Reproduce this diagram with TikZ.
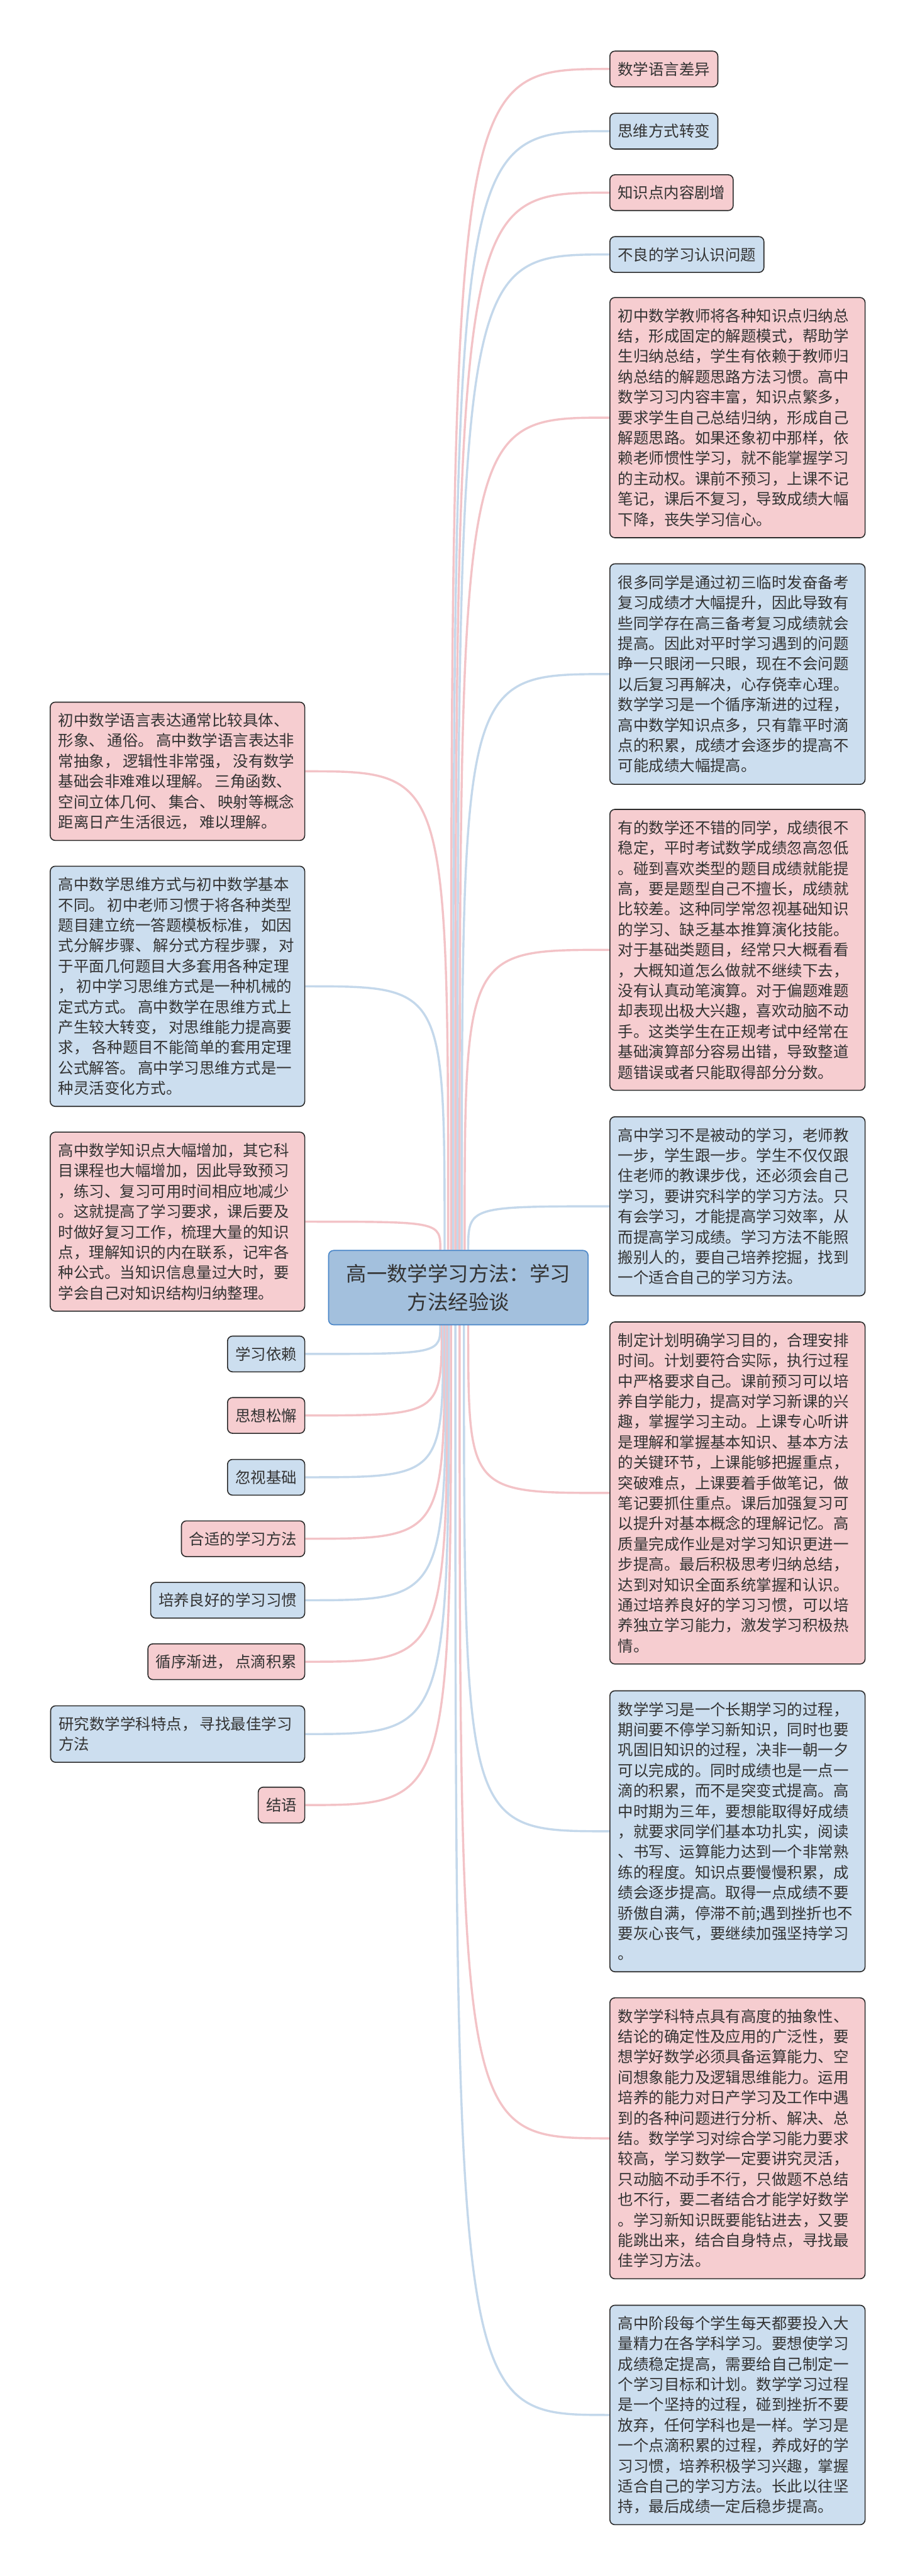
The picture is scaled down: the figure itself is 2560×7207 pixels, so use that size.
\documentclass[tikz,border=0pt]{standalone}
\usepackage{fontspec}
\newfontfamily\cjk{Noto Sans CJK SC}
\definecolor{pinkfill}{HTML}{F6CDD0}
\definecolor{bluefill}{HTML}{CCDEEF}
\definecolor{pinkline}{HTML}{F3C3C7}
\definecolor{blueline}{HTML}{C4D8EB}
\definecolor{cfill}{HTML}{A3C0DD}
\definecolor{cborder}{HTML}{4A86C8}
\definecolor{bordercol}{HTML}{2B2B2B}
\definecolor{txt}{HTML}{333333}
\newcommand\gp{\nobreak\hspace{0.18em}\nobreak}
\pgfdeclarelayer{bg}
\pgfsetlayers{bg,main}
\begin{document}
\begin{tikzpicture}[x=0.5pt,y=-0.5pt,
 base/.style={draw=bordercol, line width=1.4pt, rounded corners=7pt, text=txt, font=\cjk\fontsize{21.5pt}{28.5pt}\selectfont},
 pinkbox/.style={base, fill=pinkfill},
 bluebox/.style={base, fill=bluefill},
 small/.style={inner xsep=11pt, inner ysep=0pt, minimum height=50pt},
 rsmall/.style={small, anchor=west},
 lsmall/.style={small, anchor=east},
 big/.style={text width=334pt, align=left, inner xsep=11.5pt, inner ysep=0pt, anchor=north west},
 lbig/.style={text width=333pt, align=left, inner xsep=11.5pt, inner ysep=0pt, anchor=north east},
 pcon/.style={draw=pinkline, line width=3pt},
 bcon/.style={draw=blueline, line width=3pt},
]
\useasboundingbox (0,0) rectangle (2560,7207);

% central
\node[draw=cborder, fill=cfill, line width=1.4pt, rounded corners=7pt, text=txt,
  font=\cjk\fontsize{28.5pt}{39.5pt}\selectfont, align=center,
  minimum width=363pt, minimum height=104pt, anchor=north west] (c) at (918,3497)
  {高一数学学习方法：学习\\方法经验谈};

% right small
\node[pinkbox, rsmall] (r1) at (1705,193) {数学语言差异};
\node[bluebox, rsmall] (r2) at (1705,367) {思维方式转变};
\node[pinkbox, rsmall] (r3) at (1705,539) {知识点内容剧增};
\node[bluebox, rsmall] (r4) at (1705,712) {不良的学习认识问题};

% right big
\node[pinkbox, big, minimum height=336pt] (b1) at (1705,831) {初中数学教师将各种知识点归纳总\\结，形成固定的解题模式，帮助学\\生归纳总结，学生有依赖于教师归\\纳总结的解题思路方法习惯。高中\\数学习习内容丰富，知识点繁多，\\要求学生自己总结归纳，形成自己\\解题思路。如果还象初中那样，依\\赖老师惯性学习，就不能掌握学习\\的主动权。课前不预习，上课不记\\笔记，课后不复习，导致成绩大幅\\下降，丧失学习信心。};
\node[bluebox, big, minimum height=308.5pt] (b2) at (1705,1576) {很多同学是通过初三临时发奋备考\\复习成绩才大幅提升，因此导致有\\些同学存在高三备考复习成绩就会\\提高。因此对平时学习遇到的问题\\睁一只眼闭一只眼，现在不会问题\\以后复习再解决，心存侥幸心理。\\数学学习是一个循序渐进的过程，\\高中数学知识点多，只有靠平时滴\\点的积累，成绩才会逐步的提高不\\可能成绩大幅提高。};
\node[pinkbox, big, minimum height=393pt] (b3) at (1705,2263) {有的数学还不错的同学，成绩很不\\稳定，平时考试数学成绩忽高忽低\\。碰到喜欢类型的题目成绩就能提\\高，要是题型自己不擅长，成绩就\\比较差。这种同学常忽视基础知识\\的学习、缺乏基本推算演化技能。\\对于基础类题目，经常只大概看看\\，大概知道怎么做就不继续下去，\\没有认真动笔演算。对于偏题难题\\却表现出极大兴趣，喜欢动脑不动\\手。这类学生在正规考试中经常在\\基础演算部分容易出错，导致整道\\题错误或者只能取得部分分数。};
\node[bluebox, big, minimum height=250.5pt] (b4) at (1705,3123) {高中学习不是被动的学习，老师教\\一步，学生跟一步。学生不仅仅跟\\住老师的教课步伐，还必须会自己\\学习，要讲究科学的学习方法。只\\有会学习，才能提高学习效率，从\\而提高学习成绩。学习方法不能照\\搬别人的，要自己培养挖掘，找到\\一个适合自己的学习方法。};
\node[pinkbox, big, minimum height=478.5pt] (b5) at (1705,3697) {制定计划明确学习目的，合理安排\\时间。计划要符合实际，执行过程\\中严格要求自己。课前预习可以培\\养自学能力，提高对学习新课的兴\\趣，掌握学习主动。上课专心听讲\\是理解和掌握基本知识、基本方法\\的关键环节，上课能够把握重点，\\突破难点，上课要着手做笔记，做\\笔记要抓住重点。课后加强复习可\\以提升对基本概念的理解记忆。高\\质量完成作业是对学习知识更进一\\步提高。最后积极思考归纳总结，\\达到对知识全面系统掌握和认识。\\通过培养良好的学习习惯，可以培\\养独立学习能力，激发学习积极热\\情。};
\node[bluebox, big, minimum height=393pt] (b6) at (1705,4729) {数学学习是一个长期学习的过程，\\期间要不停学习新知识，同时也要\\巩固旧知识的过程，决非一朝一夕\\可以完成的。同时成绩也是一点一\\滴的积累，而不是突变式提高。高\\中时期为三年，要想能取得好成绩\\，就要求同学们基本功扎实，阅读\\、书写、运算能力达到一个非常熟\\练的程度。知识点要慢慢积累，成\\绩会逐步提高。取得一点成绩不要\\骄傲自满，停滞不前;遇到挫折也不\\要灰心丧气，要继续加强坚持学习\\。};
\node[pinkbox, big, minimum height=393pt] (b7) at (1705,5588) {数学学科特点具有高度的抽象性、\\结论的确定性及应用的广泛性，要\\想学好数学必须具备运算能力、空\\间想象能力及逻辑思维能力。运用\\培养的能力对日产学习及工作中遇\\到的各种问题进行分析、解决、总\\结。数学学习对综合学习能力要求\\较高，学习数学一定要讲究灵活，\\只动脑不动手不行，只做题不总结\\也不行，要二者结合才能学好数学\\。学习新知识既要能钻进去，又要\\能跳出来，结合自身特点，寻找最\\佳学习方法。};
\node[bluebox, big, minimum height=307pt] (b8) at (1705,6448) {高中阶段每个学生每天都要投入大\\量精力在各学科学习。要想使学习\\成绩稳定提高，需要给自己制定一\\个学习目标和计划。数学学习过程\\是一个坚持的过程，碰到挫折不要\\放弃，任何学科也是一样。学习是\\一个点滴积累的过程，养成好的学\\习习惯，培养积极学习兴趣，掌握\\适合自己的学习方法。长此以往坚\\持，最后成绩一定后稳步提高。};

% left big
\node[pinkbox, lbig, minimum height=193.5pt] (l1) at (854,1963) {初中数学语言表达通常比较具体、\\形象、\gp 通俗。\gp 高中数学语言表达非\\常抽象，\gp 逻辑性非常强，\gp 没有数学\\基础会非难难以理解。\gp 三角函数、\\空间立体几何、\gp 集合、\gp 映射等概念\\距离日产生活很远，\gp 难以理解。};
\node[bluebox, lbig, minimum height=336pt] (l2) at (854,2422) {高中数学思维方式与初中数学基本\\不同。\gp 初中老师习惯于将各种类型\\题目建立统一答题模板标准，\gp 如因\\式分解步骤、\gp 解分式方程步骤，\gp 对\\于平面几何题目大多套用各种定理\\，\gp 初中学习思维方式是一种机械的\\定式方式。\gp 高中数学在思维方式上\\产生较大转变，\gp 对思维能力提高要\\求，\gp 各种题目不能简单的套用定理\\公式解答。\gp 高中学习思维方式是一\\种灵活变化方式。};
\node[pinkbox, lbig, minimum height=250.5pt] (l3) at (854,3166) {高中数学知识点大幅增加，其它科\\目课程也大幅增加，因此导致预习\\，练习、复习可用时间相应地减少\\。这就提高了学习要求，课后要及\\时做好复习工作，梳理大量的知识\\点，理解知识的内在联系，记牢各\\种公式。当知识信息量过大时，要\\学会自己对知识结构归纳整理。};

% left small
\node[bluebox, lsmall] (s1) at (854,3788) {学习依赖};
\node[pinkbox, lsmall] (s2) at (854,3960) {思想松懈};
\node[bluebox, lsmall] (s3) at (854,4133) {忽视基础};
\node[pinkbox, lsmall] (s4) at (854,4305) {合适的学习方法};
\node[bluebox, lsmall] (s5) at (854,4477) {培养良好的学习习惯};
\node[pinkbox, lsmall] (s6) at (854,4649) {循序渐进，\gp 点滴积累};
\node[bluebox, lbig, text width=332.5pt, minimum height=79pt] (s7) at (854,4771) {研究数学学科特点，\gp 寻找最佳学习\\方法};
\node[pinkbox, lsmall] (s8) at (854,5050) {结语};

\begin{pgfonlayer}{bg}
\fill[white] (0,0) rectangle (2560,7207);
% top starts
\coordinate (tr1) at (1262,3497);
\coordinate (tr2) at (1268,3497);
\coordinate (tr3) at (1274,3497);
\coordinate (tr4) at (1280,3497);
\coordinate (tb1) at (1286,3497);
\coordinate (tb2) at (1292,3497);
\coordinate (tb3) at (1300,3497);
\coordinate (tb4) at (1310,3497);
\coordinate (tl1) at (1254,3497);
\coordinate (tl2) at (1244,3497);
\coordinate (tl3) at (1232,3497);
% bottom starts
\coordinate (bs1) at (1232,3705);
\coordinate (bs2) at (1236,3705);
\coordinate (bs3) at (1240,3705);
\coordinate (bs4) at (1244,3705);
\coordinate (bs5) at (1248,3705);
\coordinate (bs6) at (1252,3705);
\coordinate (bs7) at (1256,3705);
\coordinate (bs8) at (1262,3705);
\coordinate (bb5) at (1310,3705);
\coordinate (bb6) at (1298,3705);
\coordinate (bb7) at (1286,3705);
\coordinate (bb8) at (1274,3705);

\draw[pcon] (tr1) .. controls (tr1 |- r1.west) .. (r1.west);
\draw[bcon] (tr2) .. controls (tr2 |- r2.west) .. (r2.west);
\draw[pcon] (tr3) .. controls (tr3 |- r3.west) .. (r3.west);
\draw[bcon] (tr4) .. controls (tr4 |- r4.west) .. (r4.west);
\draw[pcon] (tb1) .. controls (tb1 |- b1.west) .. (b1.west);
\draw[bcon] (tb2) .. controls (tb2 |- b2.west) .. (b2.west);
\draw[pcon] (tb3) .. controls (tb3 |- b3.west) .. (b3.west);
\draw[bcon] (tb4) .. controls (tb4 |- b4.west) .. (b4.west);
\draw[pcon] (tl1) .. controls (tl1 |- l1.east) .. (l1.east);
\draw[bcon] (tl2) .. controls (tl2 |- l2.east) .. (l2.east);
\draw[pcon] (tl3) .. controls (tl3 |- l3.east) .. (l3.east);

\draw[bcon] (bs1) .. controls (bs1 |- s1.east) .. (s1.east);
\draw[pcon] (bs2) .. controls (bs2 |- s2.east) .. (s2.east);
\draw[bcon] (bs3) .. controls (bs3 |- s3.east) .. (s3.east);
\draw[pcon] (bs4) .. controls (bs4 |- s4.east) .. (s4.east);
\draw[bcon] (bs5) .. controls (bs5 |- s5.east) .. (s5.east);
\draw[pcon] (bs6) .. controls (bs6 |- s6.east) .. (s6.east);
\draw[bcon] (bs7) .. controls (bs7 |- s7.east) .. (s7.east);
\draw[pcon] (bs8) .. controls (bs8 |- s8.east) .. (s8.east);
\draw[pcon] (bb5) .. controls (bb5 |- b5.west) .. (b5.west);
\draw[bcon] (bb6) .. controls (bb6 |- b6.west) .. (b6.west);
\draw[pcon] (bb7) .. controls (bb7 |- b7.west) .. (b7.west);
\draw[bcon] (bb8) .. controls (bb8 |- b8.west) .. (b8.west);
\end{pgfonlayer}
\end{tikzpicture}
\end{document}
